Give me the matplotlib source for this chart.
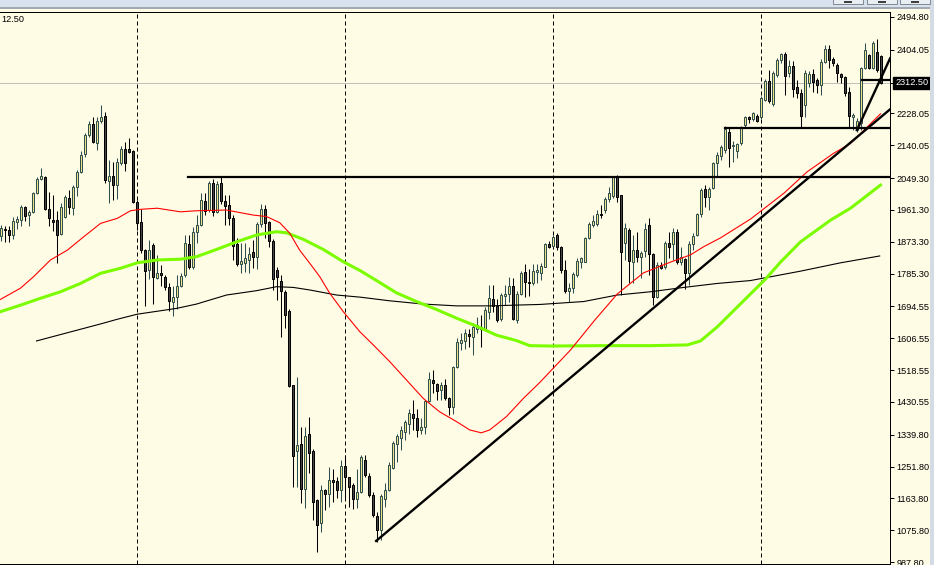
import numpy as np
import matplotlib
matplotlib.use("Agg")
import matplotlib.pyplot as plt
from matplotlib.patches import Rectangle

plt.rcParams['font.family'] = ['Liberation Sans', 'DejaVu Sans']

W, H = 934, 565

# weekly bars
opens = [
    1888, 1908, 1907, 1893, 1927, 1934, 1969, 1946, 1955, 2008,
    2046, 2052, 1964, 1934, 1934, 1894, 1942, 1994, 1966, 2024,
    2066, 2116, 2169, 2199, 2146, 2206, 2221, 2041, 2056, 2029,
    2091, 2129, 2129, 2125, 1983, 1928, 1850, 1796, 1865, 1773,
    1787, 1776, 1748, 1706, 1721, 1751, 1781, 1867, 1804, 1901,
    1919, 1987, 1961, 2036, 1956, 2036, 1987, 1975, 1940, 1867,
    1813, 1815, 1824, 1846, 1832, 1922, 1963, 1928, 1876, 1795,
    1765, 1735, 1682, 1477, 1295, 1314, 1191, 1341, 1295, 1159,
    1096, 1187, 1177, 1214, 1212, 1188, 1253, 1222, 1200, 1163,
    1182, 1271, 1225, 1173, 1115, 1076, 1163, 1186, 1249, 1315,
    1332, 1348, 1369, 1397, 1387, 1352, 1360, 1433, 1491, 1481,
    1463, 1477, 1440, 1417, 1526, 1594, 1599, 1618, 1610, 1633,
    1638, 1633, 1680, 1716, 1695, 1661, 1723, 1728, 1751, 1658,
    1728, 1790, 1762, 1760, 1790, 1788, 1804, 1867, 1862, 1892,
    1860, 1795, 1738, 1745, 1781, 1818, 1818, 1883, 1920, 1922,
    1950, 1961, 1991, 2000, 2051, 2003, 1871, 1906, 1818, 1851,
    1830, 1849, 1920, 1839, 1720, 1809, 1803, 1871, 1867, 1901,
    1816, 1825, 1788, 1867, 1892, 1950, 2018, 1998, 2021, 2092,
    2110, 2126, 2177, 2138, 2125, 2147, 2196, 2217, 2212, 2221,
    2217, 2265, 2319, 2254, 2334, 2376, 2392, 2339, 2359, 2302,
    2285, 2251, 2313, 2337, 2320, 2307, 2371, 2405, 2378, 2362,
    2337, 2330, 2288, 2219, 2182, 2201, 2353, 2390, 2353, 2399, 2387,
]
highs = [
    1920, 1918, 1916, 1943, 1945, 1976, 1973, 1962, 2012, 2052,
    2076, 2056, 2010, 2003, 1957, 1980, 2003, 2017, 2031, 2072,
    2123, 2173, 2206, 2219, 2219, 2252, 2233, 2100, 2095, 2104,
    2137, 2150, 2160, 2127, 1989, 1965, 1853, 1877, 1870, 1838,
    1810, 1781, 1759, 1750, 1782, 1786, 1892, 1892, 1915, 1947,
    2007, 2007, 2042, 2048, 2042, 2052, 2002, 2002, 1947, 1885,
    1870, 1869, 1859, 1878, 1928, 1977, 1975, 1931, 1880, 1804,
    1781, 1741, 1686, 1477, 1500, 1362, 1362, 1389, 1299, 1163,
    1200, 1191, 1251, 1246, 1223, 1269, 1283, 1223, 1205, 1246,
    1283, 1283, 1233, 1182, 1127, 1175, 1205, 1265, 1323, 1343,
    1363, 1380, 1412, 1437, 1412, 1385, 1435, 1514, 1518, 1483,
    1486, 1495, 1445, 1530, 1606, 1620, 1633, 1633, 1649, 1666,
    1670, 1693, 1753, 1753, 1714, 1732, 1753, 1776, 1774, 1738,
    1793, 1813, 1799, 1813, 1811, 1814, 1871, 1874, 1892, 1897,
    1862, 1823, 1758, 1791, 1828, 1832, 1887, 1929, 1947, 1961,
    1975, 1998, 2026, 2055, 2058, 2003, 1924, 1910, 1892, 1901,
    1849, 1924, 1938, 1841, 1816, 1818, 1876, 1901, 1910, 1908,
    1860, 1828, 1874, 1897, 1954, 2021, 2030, 2025, 2095, 2122,
    2140, 2192, 2190, 2152, 2147, 2192, 2222, 2221, 2232, 2226,
    2275, 2324, 2347, 2345, 2382, 2396, 2399, 2376, 2374, 2320,
    2297, 2348, 2345, 2350, 2325, 2378, 2417, 2417, 2383, 2367,
    2341, 2332, 2302, 2228, 2215, 2357, 2422, 2392, 2427, 2433, 2390,
]
lows = [
    1874, 1872, 1872, 1881, 1908, 1918, 1930, 1918, 1953, 2006,
    2043, 1960, 1918, 1902, 1815, 1893, 1939, 1951, 1948, 2000,
    2063, 2109, 2164, 2146, 2127, 2201, 2035, 1980, 1989, 1991,
    2086, 2068, 2120, 1980, 1907, 1842, 1697, 1770, 1700, 1769,
    1750, 1741, 1681, 1667, 1686, 1747, 1776, 1799, 1799, 1870,
    1917, 1947, 1956, 1944, 1953, 1979, 1919, 1919, 1823, 1806,
    1787, 1790, 1787, 1802, 1797, 1915, 1885, 1859, 1741, 1712,
    1611, 1634, 1472, 1196, 1196, 1150, 1136, 1233, 1105, 1016,
    1071, 1131, 1140, 1154, 1166, 1154, 1163, 1140, 1133, 1136,
    1179, 1223, 1168, 1113, 1044, 1050, 1140, 1184, 1246, 1265,
    1297, 1325, 1343, 1352, 1334, 1343, 1343, 1431, 1454, 1437,
    1435, 1435, 1394, 1398, 1523, 1574, 1578, 1583, 1560, 1620,
    1583, 1629, 1661, 1680, 1652, 1655, 1698, 1707, 1658, 1649,
    1726, 1721, 1723, 1753, 1758, 1768, 1803, 1855, 1860, 1851,
    1788, 1731, 1708, 1731, 1777, 1800, 1816, 1880, 1915, 1917,
    1938, 1952, 1984, 1993, 1984, 1726, 1823, 1758, 1758, 1818,
    1772, 1832, 1781, 1698, 1717, 1797, 1797, 1827, 1823, 1812,
    1809, 1742, 1754, 1851, 1889, 1943, 1970, 1961, 2018, 2053,
    2100, 2120, 2081, 2095, 2104, 2140, 2190, 2203, 2208, 2204,
    2214, 2262, 2258, 2250, 2330, 2367, 2279, 2330, 2273, 2270,
    2187, 2219, 2300, 2286, 2284, 2279, 2367, 2353, 2360, 2316,
    2311, 2276, 2191, 2182, 2178, 2182, 2350, 2350, 2350, 2344, 2310,
]
closes = [
    1911, 1905, 1891, 1930, 1936, 1969, 1945, 1955, 2008, 2046,
    2056, 1964, 1938, 1927, 1892, 1969, 1997, 1968, 2026, 2066,
    2114, 2169, 2199, 2148, 2206, 2219, 2043, 2056, 2029, 2095,
    2129, 2092, 2122, 1982, 1925, 1850, 1792, 1850, 1776, 1787,
    1782, 1748, 1709, 1721, 1752, 1778, 1869, 1804, 1901, 1919,
    1988, 1959, 2036, 1956, 2033, 1987, 1972, 1940, 1861, 1811,
    1821, 1827, 1839, 1830, 1922, 1963, 1926, 1876, 1769, 1776,
    1738, 1670, 1474, 1281, 1311, 1191, 1336, 1288, 1154, 1090,
    1187, 1177, 1214, 1210, 1188, 1253, 1222, 1196, 1163, 1182,
    1277, 1228, 1173, 1117, 1076, 1170, 1188, 1256, 1317, 1336,
    1352, 1375, 1400, 1387, 1354, 1362, 1433, 1495, 1484, 1461,
    1477, 1440, 1415, 1527, 1597, 1601, 1620, 1613, 1638, 1643,
    1633, 1684, 1719, 1695, 1658, 1726, 1730, 1751, 1661, 1728,
    1787, 1762, 1760, 1793, 1795, 1806, 1867, 1858, 1887, 1860,
    1795, 1738, 1745, 1784, 1821, 1827, 1883, 1922, 1932, 1950,
    1947, 1991, 2009, 2051, 1996, 1846, 1910, 1821, 1851, 1832,
    1841, 1908, 1839, 1720, 1809, 1800, 1871, 1860, 1901, 1816,
    1830, 1788, 1867, 1889, 1950, 2016, 1998, 2018, 2092, 2112,
    2135, 2184, 2132, 2141, 2143, 2189, 2217, 2214, 2228, 2208,
    2270, 2319, 2263, 2339, 2376, 2392, 2332, 2359, 2297, 2285,
    2221, 2341, 2337, 2316, 2307, 2371, 2405, 2376, 2367, 2341,
    2330, 2284, 2221, 2224, 2208, 2353, 2404, 2353, 2424, 2348, 2312.5,
]

# moving averages, sampled along the drawn curves (bar index, price)
red_ma_idx = [0, 5, 8.3, 12.5, 16.7, 20.8, 25, 29.2, 32.5, 35, 39.2, 45, 49,
              56.5, 63.2, 66.5, 69.8, 72.3, 74.8, 77.3, 79.8, 82.3, 85.7,
              89.8, 93.2, 97.3, 101.5, 105.7, 109.8, 114, 117.3, 120.2,
              122.3, 126.5, 130.7, 134.8, 142.5, 148.6, 154.2, 160.7, 167.5,
              172.5, 175.7, 180, 187.5, 195.8, 201.7, 208.3, 212.5, 220]
red_ma_val = [1714, 1745, 1777, 1823, 1850, 1887, 1924, 1938, 1959, 1963,
              1966, 1956, 1959, 1961, 1947, 1943, 1926, 1897, 1850, 1814,
              1777, 1731, 1680, 1625, 1588, 1542, 1491, 1440, 1403, 1376,
              1353, 1345, 1353, 1390, 1440, 1484, 1574, 1657, 1729, 1787,
              1817, 1837, 1859, 1884, 1936, 2007, 2067, 2118, 2145, 2227]

green_ma_idx = [0, 5, 10, 15, 20, 25, 30, 34.2, 39.2, 45, 49, 54, 59, 64, 69,
                71.5, 75.7, 80.7, 85.7, 90, 94, 99, 104, 109, 114, 119, 124,
                129, 132.3, 137.5, 150, 162.5, 171.7, 175, 179.2, 187.5,
                191.25, 195, 200, 207.5, 212.5, 220]
green_ma_val = [1680, 1698, 1717, 1735, 1758, 1786, 1800, 1815, 1823, 1825,
                1832, 1852, 1873, 1892, 1901, 1898, 1880, 1852, 1818, 1793,
                1766, 1732, 1708, 1686, 1662, 1640, 1615, 1600, 1586, 1585,
                1586, 1586, 1588, 1599, 1638, 1729, 1770, 1817, 1873, 1933,
                1966, 2030]

black_ma_idx = [9, 17.5, 25, 29.2, 34.2, 44, 49, 56.5, 64, 69, 73.2, 77.3, 84,
                90, 97.3, 105.7, 114, 122.3, 135, 145.8, 154.2, 162.5, 170.8,
                179.2, 187.5, 200, 210, 219.8]
black_ma_val = [1599, 1624, 1646, 1659, 1673, 1689, 1701, 1726, 1738, 1749,
                1747, 1740, 1726, 1720, 1710, 1701, 1696, 1696, 1700, 1708,
                1726, 1735, 1747, 1758, 1766, 1792, 1815, 1834]

# drawn objects: trend lines (bar index / price end points) and levels
trend_idx = [93.9, 222.4]
trend_val = [1046, 2239.5]
steep_idx = [214.1, 222.4]
steep_val = [2182, 2380.5]
levels = [(2052, 46.9, 222.0), (2187, 181.1, 222.4), (2320, 215.4, 222.4)]
separators = [34, 86, 138, 190]
last_price = 2312.5
price_ticks = [2494.80, 2404.05, 2228.05, 2140.05, 2049.30, 1961.30, 1873.30,
               1785.30, 1694.55, 1606.55, 1518.55, 1430.55, 1339.80, 1251.80,
               1163.80, 1075.80, 987.80]

bg = '#FFFCE6'
fig = plt.figure(figsize=(W / 100, H / 100), dpi=100, facecolor=bg)
ax = fig.add_axes([0, 1 / H, 890 / W, 552 / H])
ax.set_facecolor(bg)

o = np.array(opens, float)
h = np.array(highs, float)
l = np.array(lows, float)
c = np.array(closes, float)
x = np.arange(len(c))
up = c >= o

ax.vlines(x[up], l[up], h[up], color='#2F4F4F', lw=0.75, zorder=2)
ax.vlines(x[~up], l[~up], h[~up], color='black', lw=0.75, zorder=2)
lo = np.minimum(o, c)
ht = np.maximum(np.abs(c - o), 3.0)
ax.bar(x[up], ht[up], bottom=lo[up], width=0.5, color='#EEE38A',
       edgecolor='#2F4F4F', lw=0.72, zorder=2.5)
ax.bar(x[~up], ht[~up], bottom=lo[~up], width=0.5, color='#454545',
       edgecolor='black', lw=0.72, zorder=2.5)

for s in separators:
    ax.axvline(s, color='black', lw=0.72, ls=(0, (4, 3)), zorder=1)
ax.axhline(last_price, color='#C0C0C0', lw=0.72, zorder=1)

ax.plot(black_ma_idx, black_ma_val, color='black', lw=0.8, zorder=3)
ax.plot(green_ma_idx, green_ma_val, color='#7CFC00', lw=2.2, zorder=3)
ax.plot(red_ma_idx, red_ma_val, color='red', lw=0.8, zorder=3.2)

ax.plot(trend_idx, trend_val, color='black', lw=1.7, zorder=4)
ax.plot(steep_idx, steep_val, color='black', lw=1.7, zorder=4)
for lev, a, b in levels:
    ax.plot([a, b], [lev, lev], color='black', lw=1.6, zorder=4)

ax.set_xlim(-0.125, 222.375)
ax.set_ylim(982.27, 2508.55)
ax.set_xticks([])
ax.yaxis.tick_right()
ax.set_yticks(price_ticks + [last_price])
ax.set_yticklabels([f'{v:.2f}' for v in price_ticks] + [''])
ax.tick_params(axis='y', direction='out', length=3, width=0.72, pad=1.5,
               labelsize=6.6, colors='black')
ax.spines['left'].set_visible(False)
for side in ['top', 'right', 'bottom']:
    ax.spines[side].set_linewidth(0.72)
    ax.spines[side].set_color('black')

ax.annotate(f'{last_price:.2f}', xy=(1, last_price),
            xycoords=('axes fraction', 'data'), xytext=(5, 0),
            textcoords='offset pixels', ha='left', va='center',
            color='white', fontsize=6.6, annotation_clip=False,
            bbox=dict(boxstyle='square,pad=0.2', fc='black', ec='black'))

fig.text(1 / W, 1 - 20 / H, '12.50', fontsize=6.6, ha='left', va='center')


def px_rect(x0, y0, w, hh, **kw):
    return Rectangle((x0 / W, 1 - (y0 + hh) / H), w / W, hh / H,
                     transform=fig.transFigure, **kw)


# window chrome
fig.add_artist(px_rect(0, 0, W, 7.5, fc='#D8E2EE', ec='none'))
fig.add_artist(px_rect(0, 7, W, 2, fc='#A3A9B1', ec='none'))
fig.add_artist(px_rect(930, 0, 4, H, fc='#D3DBE5', ec='none'))
for bx in [833, 867, 900]:
    fig.add_artist(px_rect(bx, -4, 30, 8, fc='#E9EEF3', ec='#7D8894', lw=0.7))
    fig.add_artist(px_rect(bx + 11, 1.5, 8, 1.5, fc='#404040', ec='none'))

fig.savefig('out.png', dpi=100, facecolor=bg)
